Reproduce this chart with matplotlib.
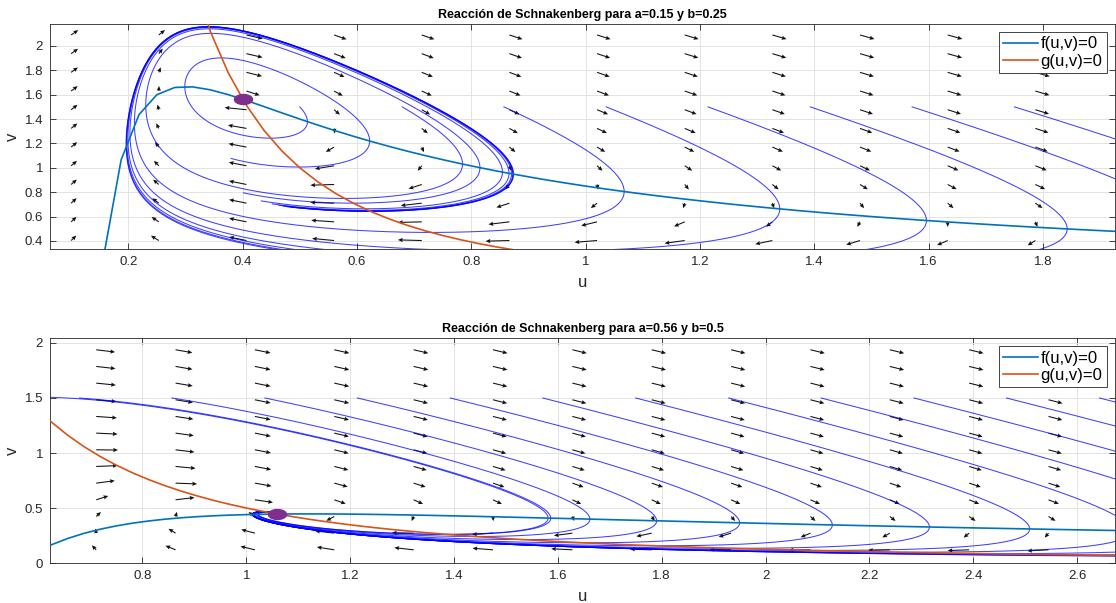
import numpy as np
import matplotlib
matplotlib.use('Agg')
import matplotlib.pyplot as plt
from matplotlib.path import Path
from matplotlib.ticker import FuncFormatter

plt.rcParams['font.family'] = ['Liberation Sans', 'DejaVu Sans']

# parametros de cada panel
a_vals = [0.15, 0.56]
b_vals = [0.25, 0.5]
titles = ['Reacción de Schnakenberg para a=0.15 y b=0.25',
          'Reacción de Schnakenberg para a=0.56 y b=0.5']

# condiciones iniciales (todas con v0 = 1.5)
u0_top = [0.5, 0.679, 0.857, 1.036, 1.214, 1.393, 1.571, 1.75]
u0_bot = [0.5, 0.679, 0.857, 1.036, 1.214, 1.393, 1.571, 1.75,
          1.929, 2.107, 2.286, 2.464, 2.643]
v0 = 1.5
t_end = [20, 20]

# malla del campo de direcciones
qu_top = np.linspace(0.1, 1.94, 13)
qv_top = np.linspace(0.25, 2.09, 13)
qu_bot = np.linspace(0.711, 2.545, 13)
qv_bot = np.linspace(0.12, 2.09, 14)
arrow_len = 0.042

xlims = [(0.063, 1.926), (0.622, 2.673)]
ylims = [(0.334, 2.18), (0, 2.045)]


def rhs(u, v, a, b):
    return a - u + u**2 * v, b - u**2 * v


def integrate(u0, v0, a, b, T, dt=0.004):
    # RK4 para todas las condiciones iniciales a la vez
    u = np.array(u0, dtype=float)
    v = np.full_like(u, v0)
    us, vs = [u.copy()], [v.copy()]
    for _ in range(int(T / dt)):
        k1u, k1v = rhs(u, v, a, b)
        k2u, k2v = rhs(u + dt/2*k1u, v + dt/2*k1v, a, b)
        k3u, k3v = rhs(u + dt/2*k2u, v + dt/2*k2v, a, b)
        k4u, k4v = rhs(u + dt*k3u, v + dt*k3v, a, b)
        u = u + dt/6*(k1u + 2*k2u + 2*k3u + k4u)
        v = v + dt/6*(k1v + 2*k2v + 2*k3v + k4v)
        us.append(u.copy()); vs.append(v.copy())
    return np.array(us), np.array(vs)


# marcador elíptico para el punto de equilibrio
tt = np.linspace(0, 2*np.pi, 40)
eq_marker = Path(np.column_stack([np.cos(tt), 0.55*np.sin(tt)]), closed=True)

fig = plt.figure(figsize=(11.16, 6.03), dpi=100)
positions = [[0.0448, 0.5871, 0.9543, 0.3731], [0.0448, 0.0663, 0.9543, 0.3731]]
inits = [u0_top, u0_bot]
grids = [(qu_top, qv_top), (qu_bot, qv_bot)]
xtick_sets = [np.arange(0.2, 1.81, 0.2), np.arange(0.8, 2.61, 0.2)]
ytick_sets = [np.arange(0.4, 2.01, 0.2), np.arange(0, 2.01, 0.5)]

fmt = FuncFormatter(lambda x, p: f'{round(x, 2):g}')

for i in range(2):
    a, b = a_vals[i], b_vals[i]
    ax = fig.add_axes(positions[i])

    # campo de direcciones normalizado
    U, V = np.meshgrid(*grids[i])
    fu, gv = rhs(U, V, a, b)
    n = np.hypot(fu, gv)
    ax.quiver(U, V, arrow_len*fu/n, arrow_len*gv/n, angles='xy', scale_units='xy',
              scale=1, color='#111111', width=0.001, headwidth=4, headlength=4.5,
              headaxislength=4, zorder=2)

    # trayectorias
    us, vs = integrate(inits[i], v0, a, b, t_end[i])
    ax.plot(us, vs, color='#0000ff', lw=0.75, alpha=0.75, zorder=3)

    # isoclinas
    uu = np.arange(1/32, 3.0, 1/32)
    ax.plot(uu, (uu - a)/uu**2, color='#0072BD', lw=1.2, label='f(u,v)=0', zorder=4)
    ax.plot(uu, b/uu**2, color='#D95319', lw=1.2, label='g(u,v)=0', zorder=4)

    # equilibrio
    ue = a + b
    ax.plot([ue], [b/ue**2], linestyle='none', marker=eq_marker, markersize=13,
            color='#7E2F8E', zorder=5)

    ax.set_xlim(*xlims[i])
    ax.set_ylim(*ylims[i])
    ax.set_xticks(xtick_sets[i])
    ax.set_yticks(ytick_sets[i])
    ax.xaxis.set_major_formatter(fmt)
    ax.yaxis.set_major_formatter(fmt)
    ax.tick_params(direction='in', top=True, right=True, length=4, width=0.6,
                   labelsize=9.5, colors='#262626', pad=5)
    ax.grid(True, color='#e3e3e3', lw=0.7)
    ax.set_axisbelow(True)
    for s in ax.spines.values():
        s.set_color('#262626')
        s.set_linewidth(0.6)
    ax.set_xlabel('u', fontsize=12, color='#262626', labelpad=5)
    ax.set_ylabel('v', fontsize=12, color='#262626', labelpad=3)
    ax.set_title(titles[i], fontsize=9, fontweight='bold', pad=4)
    leg = ax.legend(loc='upper right', fontsize=12, fancybox=False, framealpha=1,
                    edgecolor='#262626', handlelength=2.1, handletextpad=0.15,
                    borderpad=0.25, labelspacing=0.15, borderaxespad=0.5)
    leg.get_frame().set_linewidth(0.6)

fig.savefig('out.png', dpi=100)
